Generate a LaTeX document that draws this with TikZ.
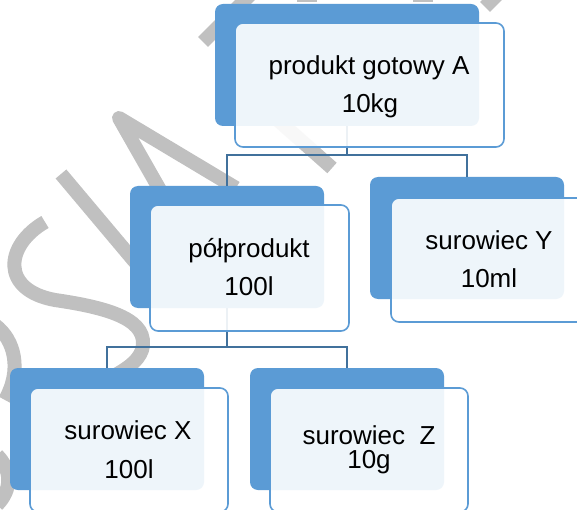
\documentclass[tikz,border=0pt]{standalone}
\usepackage{fontspec}
\setmainfont{Liberation Sans}
\definecolor{boxblue}{RGB}{91,155,213}
\definecolor{linkblue}{RGB}{65,113,156}
\definecolor{wmgray}{RGB}{192,192,192}
\tikzset{
  backbox/.style={draw=none, fill=boxblue, rounded corners=8pt, inner sep=0pt, outer sep=0pt,
                  minimum height=122pt, anchor=north west},
  frontbox/.style={draw=boxblue, line width=1.6pt, fill=white, fill opacity=0.9, rounded corners=8pt,
                   inner sep=0pt, outer sep=0pt, minimum height=124pt, anchor=north west},
  conn/.style={draw=linkblue, line width=1.6pt},
  wm/.style={draw=wmgray, line width=14pt},
  lbl/.style={font=\fontsize{26pt}{30pt}\selectfont, inner sep=0pt, outer sep=0pt, anchor=base, text=black}
}
\begin{document}
\begin{tikzpicture}[x=1pt,y=-1pt]
\path[use as bounding box] (0,0) rectangle (577,510);
\clip (0,0) rectangle (577,510);
\fill[white] (0,0) rectangle (577,510);

% watermark strokes
\draw[wm] (45,222) .. controls (5,245) and (0,290) .. (55,300) .. controls (110,308) and (150,320) .. (142,350) .. controls (138,362) and (125,370) .. (110,378);
\draw[wm] (-5,325) .. controls (15,340) and (22,370) .. (5,400);
\draw[wm] (-3,455) .. controls (12,470) and (12,490) .. (-3,505);
\draw[wm] (61,174) -- (135,262);
\draw[wm, line join=round] (160,190) -- (119,118) -- (236,188);
\draw[wm] (262,106) -- (332,168);
\draw[wm] (203,42) -- (250,-5);
\draw[wm] (485,7) -- (520,-28);
\fill[wmgray] (297,0) rectangle (317,2);
\fill[wmgray] (413,0) rectangle (433,2);

% back boxes
\node[backbox, minimum width=264pt] (Ab) at (215,4) {};
\node[backbox, minimum width=194pt] (Pb) at (130,186) {};
\node[backbox, minimum width=194pt] (Yb) at (370,177) {};
\node[backbox, minimum width=194pt] (Xb) at (10,368) {};
\node[backbox, minimum width=194pt] (Zb) at (250,368) {};

% connectors
\coordinate (busA) at (347,155);
\coordinate (busP) at (227,347);
\draw[conn] (Ab.south) -- (busA);
\draw[conn] (busA) -| (Pb.north);
\draw[conn] (busA) -| (Yb.north);
\draw[conn] (Pb.south) -- (busP);
\draw[conn] (busP) -| (Xb.north);
\draw[conn] (busP) -| (Zb.north);

% front boxes
\node[frontbox, minimum width=269pt] (Af) at (235,23) {};
\node[frontbox, minimum width=199pt, minimum height=126pt] (Pf) at (150,205) {};
\node[frontbox, minimum width=199pt] (Yf) at (391,198) {};
\node[frontbox, minimum width=198pt] (Xf) at (30,388) {};
\node[frontbox, minimum width=198pt] (Zf) at (270,388) {};

% labels
\node[lbl] (A1) at (369,75) {produkt gotowy A};
\node[lbl] (A2) at (370,113) {10kg};
\node[lbl] (P1) at (249,257) {półprodukt};
\node[lbl] (P2) at (249,295) {100l};
\node[lbl] (Y1) at (489,249) {surowiec Y};
\node[lbl] (Y2) at (489,287) {10ml};
\node[lbl] (X1) at (128,439) {surowiec X};
\node[lbl] (X2) at (129,478) {100l};
\node[lbl] (Z1) at (369,444) {surowiec~~Z};
\node[lbl] (Z2) at (369,468) {10g};
\end{tikzpicture}
\end{document}
